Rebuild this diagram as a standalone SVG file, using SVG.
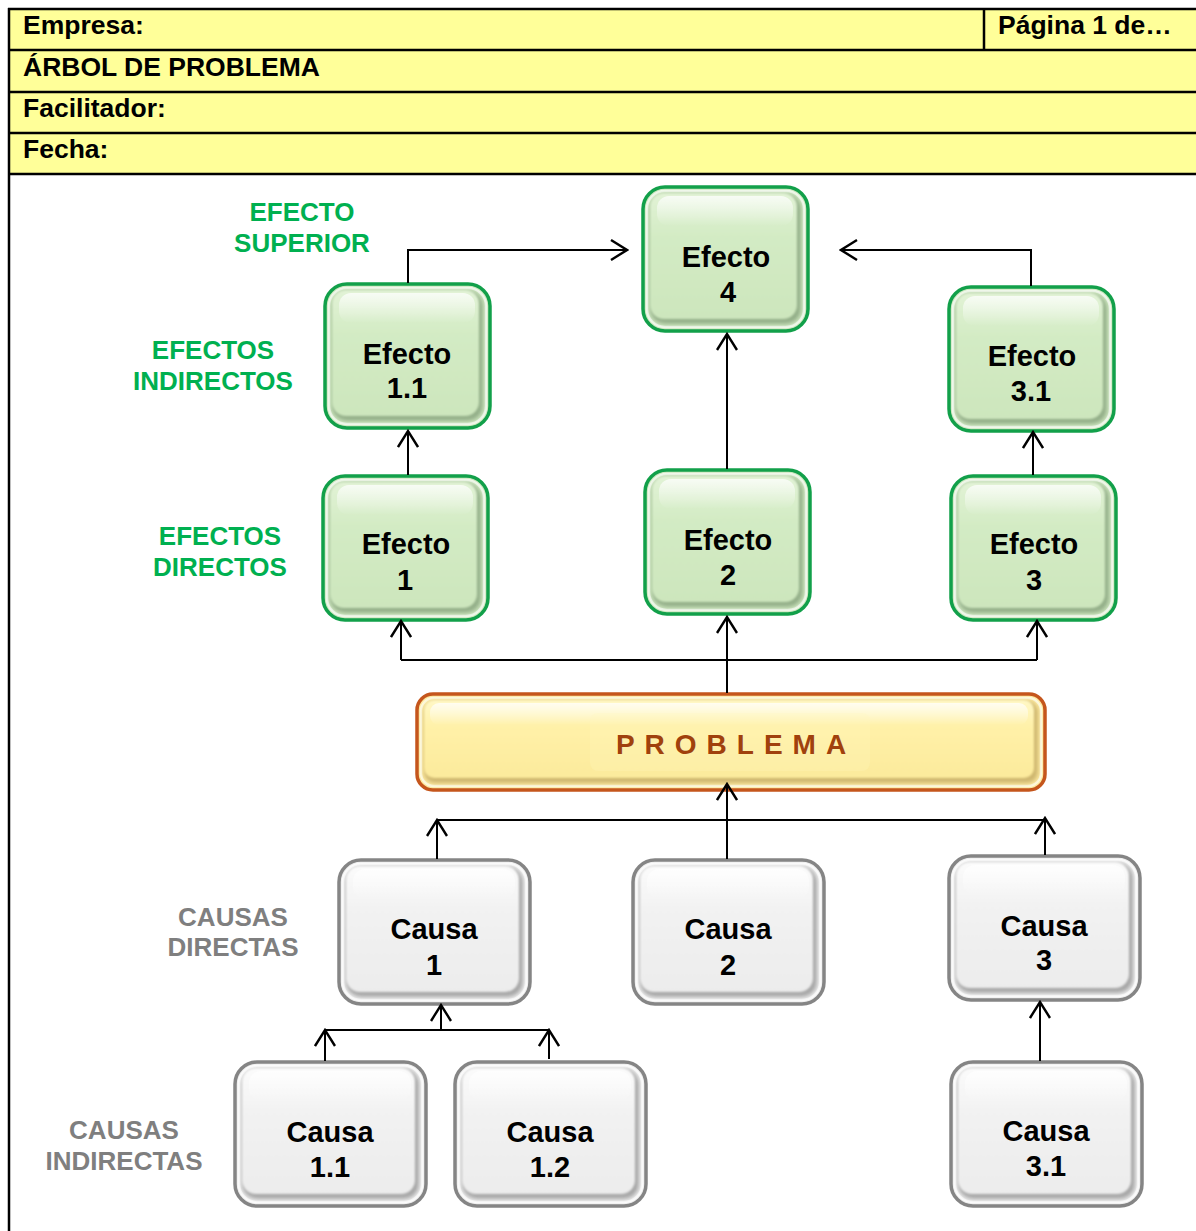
<svg xmlns="http://www.w3.org/2000/svg" xmlns:xlink="http://www.w3.org/1999/xlink" width="1196" height="1231" viewBox="0 0 1196 1231">
  <style>
    .hdr { font-family: "Liberation Sans", Arial, sans-serif; font-weight: bold; font-size: 26.5px; fill: #000; }
    .node-text { font-family: "Liberation Sans", Arial, sans-serif; font-weight: bold; font-size: 29px; fill: #000; text-anchor: middle; }
    .lvl { font-family: "Liberation Sans", Arial, sans-serif; font-weight: bold; font-size: 26px; text-anchor: middle; }
    .lvl-fx { fill: #00b050; }
    .lvl-cause { fill: #7f7f7f; }
    .prob { font-family: "Liberation Sans", Arial, sans-serif; font-weight: bold; font-size: 28px; fill: #a0410d; letter-spacing: 10px; text-anchor: middle; }
    .wire { fill: none; stroke: #000; stroke-width: 2; }
    .wire-a { fill: none; stroke: #000; stroke-width: 2; marker-end: url(#open); }
  </style>
  <defs>
    <marker id="open" viewBox="0 0 20 22" refX="18" refY="11" markerWidth="20" markerHeight="22" markerUnits="userSpaceOnUse" orient="auto">
      <path d="M2,1 L18,11 L2,21" fill="none" stroke="#000" stroke-width="2.4"/>
    </marker>
    <filter id="soft" x="-10%" y="-10%" width="120%" height="120%">
      <feGaussianBlur stdDeviation="2"/>
    </filter>
    <filter id="soft1" x="-10%" y="-10%" width="120%" height="120%">
      <feGaussianBlur stdDeviation="1"/>
    </filter>
    <linearGradient id="greenFace" x1="0" y1="0" x2="0" y2="1">
      <stop offset="0" stop-color="#e2f3d6"/>
      <stop offset="0.35" stop-color="#d3ebc4"/>
      <stop offset="1" stop-color="#cde6bd"/>
    </linearGradient>
    <linearGradient id="grayFace" x1="0" y1="0" x2="0" y2="1">
      <stop offset="0" stop-color="#fbfbfb"/>
      <stop offset="0.35" stop-color="#f2f2f2"/>
      <stop offset="1" stop-color="#ececec"/>
    </linearGradient>
    <linearGradient id="yellowFace" x1="0" y1="0" x2="0" y2="1">
      <stop offset="0" stop-color="#fff8c6"/>
      <stop offset="0.35" stop-color="#fff1a8"/>
      <stop offset="1" stop-color="#fcea9c"/>
    </linearGradient>
    <linearGradient id="shine" x1="0" y1="0" x2="0" y2="1">
      <stop offset="0" stop-color="#fff" stop-opacity="0.75"/>
      <stop offset="1" stop-color="#fff" stop-opacity="0"/>
    </linearGradient>

    <!-- green effect box, 169 x 148 -->
    <symbol id="effBox" viewBox="0 0 169 148" width="169" height="148" overflow="visible">
      <rect x="2" y="2" width="165" height="144" rx="22" fill="#cfe8c0" stroke="#12a04a" stroke-width="3.5"/>
      <rect x="6" y="6" width="157" height="136" rx="18" fill="none" stroke="#f4fbef" stroke-width="2.5"/>
      <rect x="9" y="9" width="151" height="130" rx="15" fill="#93ae88" filter="url(#soft)"/>
      <rect x="9" y="8" width="147" height="126" rx="14" fill="url(#greenFace)" filter="url(#soft1)"/>
      <rect x="16" y="11" width="136" height="30" rx="12" fill="url(#shine)"/>
    </symbol>

    <!-- grey cause box, 195 x 148 -->
    <symbol id="causeBox" viewBox="0 0 195 148" width="195" height="148" overflow="visible">
      <rect x="2" y="2" width="191" height="144" rx="22" fill="#efefef" stroke="#858585" stroke-width="3.5"/>
      <rect x="6" y="6" width="183" height="136" rx="18" fill="none" stroke="#ffffff" stroke-width="2.5"/>
      <rect x="9" y="9" width="177" height="130" rx="15" fill="#a6a6a6" filter="url(#soft)"/>
      <rect x="9" y="8" width="173" height="126" rx="14" fill="url(#grayFace)" filter="url(#soft1)"/>
      <rect x="16" y="11" width="162" height="30" rx="12" fill="url(#shine)"/>
    </symbol>
  </defs>

  <rect width="1196" height="1231" fill="#fff"/>

  <!-- form header -->
  <g id="header">
    <rect x="8" y="9" width="1190" height="165" fill="#ffff99"/>
    <path d="M8,9 H1196 M8,50 H1196 M8,92 H1196 M8,133 H1196 M8,174 H1196 M984,9 V50" stroke="#000" stroke-width="2.5" fill="none"/>
    <path d="M9,8 V1231" stroke="#000" stroke-width="2.5" fill="none"/>
    <text class="hdr" x="23" y="34">Empresa:</text>
    <text class="hdr" x="998" y="34">Página 1 de…</text>
    <text class="hdr" x="23" y="76">ÁRBOL DE PROBLEMA</text>
    <text class="hdr" x="23" y="117">Facilitador:</text>
    <text class="hdr" x="23" y="158">Fecha:</text>
  </g>

  <!-- level captions -->
  <g id="captions">
    <text class="lvl lvl-fx" x="302" y="221">EFECTO</text>
    <text class="lvl lvl-fx" x="302" y="252">SUPERIOR</text>
    <text class="lvl lvl-fx" x="213" y="359">EFECTOS</text>
    <text class="lvl lvl-fx" x="213" y="390">INDIRECTOS</text>
    <text class="lvl lvl-fx" x="220" y="545">EFECTOS</text>
    <text class="lvl lvl-fx" x="220" y="576">DIRECTOS</text>
    <text class="lvl lvl-cause" x="233" y="926">CAUSAS</text>
    <text class="lvl lvl-cause" x="233" y="956">DIRECTAS</text>
    <text class="lvl lvl-cause" x="124" y="1139">CAUSAS</text>
    <text class="lvl lvl-cause" x="124" y="1170">INDIRECTAS</text>
  </g>

  <!-- effects -->
  <g id="efecto-4">
    <use href="#effBox" x="641" y="185"/>
    <text class="node-text" x="726" y="267">Efecto</text>
    <text class="node-text" x="728" y="302">4</text>
  </g>
  <g id="efecto-1-1">
    <use href="#effBox" x="323" y="282"/>
    <text class="node-text" x="407" y="364">Efecto</text>
    <text class="node-text" x="407" y="398">1.1</text>
  </g>
  <g id="efecto-3-1">
    <use href="#effBox" x="947" y="285"/>
    <text class="node-text" x="1032" y="366">Efecto</text>
    <text class="node-text" x="1031" y="401">3.1</text>
  </g>
  <g id="efecto-1">
    <use href="#effBox" x="321" y="474"/>
    <text class="node-text" x="406" y="554">Efecto</text>
    <text class="node-text" x="405" y="590">1</text>
  </g>
  <g id="efecto-2">
    <use href="#effBox" x="643" y="468"/>
    <text class="node-text" x="728" y="550">Efecto</text>
    <text class="node-text" x="728" y="585">2</text>
  </g>
  <g id="efecto-3">
    <use href="#effBox" x="949" y="474"/>
    <text class="node-text" x="1034" y="554">Efecto</text>
    <text class="node-text" x="1034" y="590">3</text>
  </g>

  <!-- central problem -->
  <g id="problema">
    <rect x="417" y="694" width="628" height="96" rx="16" fill="#fde9a0" stroke="#c5561c" stroke-width="3.5"/>
    <rect x="421" y="698" width="620" height="88" rx="13" fill="none" stroke="#fffbe0" stroke-width="2.5"/>
    <rect x="424" y="701" width="614" height="82" rx="11" fill="#cdb66e" filter="url(#soft)"/>
    <rect x="424" y="700" width="610" height="78" rx="10" fill="url(#yellowFace)" filter="url(#soft1)"/>
    <rect x="430" y="703" width="598" height="22" rx="9" fill="url(#shine)"/>
    <rect x="590" y="713" width="280" height="58" rx="8" fill="#fff6c0" opacity="0.25"/>
    <text class="prob" x="736" y="754">PROBLEMA</text>
  </g>

  <!-- causes -->
  <g id="causa-1">
    <use href="#causeBox" x="337" y="858"/>
    <text class="node-text" x="434" y="939">Causa</text>
    <text class="node-text" x="434" y="975">1</text>
  </g>
  <g id="causa-2">
    <use href="#causeBox" x="631" y="858"/>
    <text class="node-text" x="728" y="939">Causa</text>
    <text class="node-text" x="728" y="975">2</text>
  </g>
  <g id="causa-3">
    <use href="#causeBox" x="947" y="854"/>
    <text class="node-text" x="1044" y="936">Causa</text>
    <text class="node-text" x="1044" y="970">3</text>
  </g>
  <g id="causa-1-1">
    <use href="#causeBox" x="233" y="1060"/>
    <text class="node-text" x="330" y="1142">Causa</text>
    <text class="node-text" x="330" y="1177">1.1</text>
  </g>
  <g id="causa-1-2">
    <use href="#causeBox" x="453" y="1060"/>
    <text class="node-text" x="550" y="1142">Causa</text>
    <text class="node-text" x="550" y="1177">1.2</text>
  </g>
  <g id="causa-3-1">
    <use href="#causeBox" x="949" y="1060"/>
    <text class="node-text" x="1046" y="1141">Causa</text>
    <text class="node-text" x="1046" y="1176">3.1</text>
  </g>

  <!-- connectors, drawn over the boxes so arrow tips stay visible -->
  <g id="connectors">
    <path class="wire-a" d="M408,283 V250 H627"/>
    <path class="wire-a" d="M1031,286 V250 H841"/>
    <path class="wire-a" d="M727,469 V334"/>
    <path class="wire-a" d="M408,475 V431"/>
    <path class="wire-a" d="M1033,475 V432"/>
    <path class="wire" d="M401,660 H1037" stroke-width="1.6"/>
    <path class="wire-a" d="M727,693 V617"/>
    <path class="wire-a" d="M401,660 V621"/>
    <path class="wire-a" d="M1037,660 V621"/>
    <path class="wire" d="M437,820 H1045" stroke-width="1.6"/>
    <path class="wire-a" d="M727,859 V784"/>
    <path class="wire-a" d="M437,859 V820"/>
    <path class="wire-a" d="M1045,855 V818"/>
    <path class="wire" d="M325,1030 H549" stroke-width="1.6"/>
    <path class="wire-a" d="M441,1030 V1005"/>
    <path class="wire-a" d="M325,1061 V1030"/>
    <path class="wire-a" d="M549,1059 V1030"/>
    <path class="wire-a" d="M1040,1061 V1002"/>
  </g>
</svg>
